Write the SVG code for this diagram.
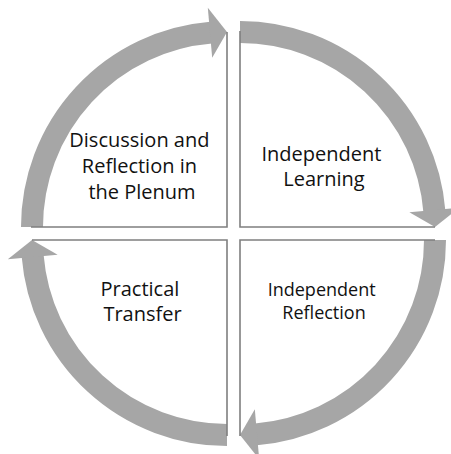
<svg xmlns="http://www.w3.org/2000/svg" xmlns:xlink="http://www.w3.org/1999/xlink" width="451" height="454" viewBox="0 0 451 454">
  <style>
    .edge { fill: none; stroke: #7f7f7f; stroke-width: 1.6; }
    .band { fill: none; stroke: #a6a6a6; stroke-width: 22; stroke-linecap: butt; }
    .head { fill: #a6a6a6; }
    .label { font-family: "Open Sans", "Noto Sans", "Liberation Sans", sans-serif; fill: #111111; text-anchor: middle; }
  </style>
  <defs>
    <!-- quarter-circle arrow for the upper-left quadrant; the others are rotations of it -->
    <g id="arc-arrow">
      <path class="band" d="M32 227 A195 195 0 0 1 211 32.66"/>
      <polygon class="head" points="207.82,7.84 227,32 212.18,57.64"/>
    </g>
  </defs>
  <rect width="451" height="454" fill="#ffffff"/>

  <g id="connectors">
    <use xlink:href="#arc-arrow"/>
    <use xlink:href="#arc-arrow" transform="rotate(90 233.5 233.5)"/>
    <use xlink:href="#arc-arrow" transform="rotate(180 233.5 233.5)"/>
    <use xlink:href="#arc-arrow" transform="rotate(270 233.5 233.5)"/>
  </g>

  <g id="discussion-reflection-plenum">
    <path class="edge" d="M227 32 V227 H31"/>
    <text class="label" font-size="20">
      <tspan x="142" y="146.7">Discussion and</tspan>
      <tspan x="142" y="172.7">Reflection in</tspan>
      <tspan x="142" y="198.7">the Plenum</tspan>
    </text>
  </g>

  <g id="independent-learning">
    <path class="edge" d="M240 31 V227 H435"/>
    <text class="label" font-size="20">
      <tspan x="324" y="160.5">Independent</tspan>
      <tspan x="324" y="185.5">Learning</tspan>
    </text>
  </g>

  <g id="independent-reflection">
    <path class="edge" d="M435 240 H240 V436"/>
    <text class="label" font-size="18">
      <tspan x="324" y="295.5">Independent</tspan>
      <tspan x="324" y="318.5">Reflection</tspan>
    </text>
  </g>

  <g id="practical-transfer">
    <path class="edge" d="M227 436 V240 H32"/>
    <text class="label" font-size="20">
      <tspan x="142.5" y="295.5">Practical</tspan>
      <tspan x="142.5" y="320.5">Transfer</tspan>
    </text>
  </g>
</svg>
